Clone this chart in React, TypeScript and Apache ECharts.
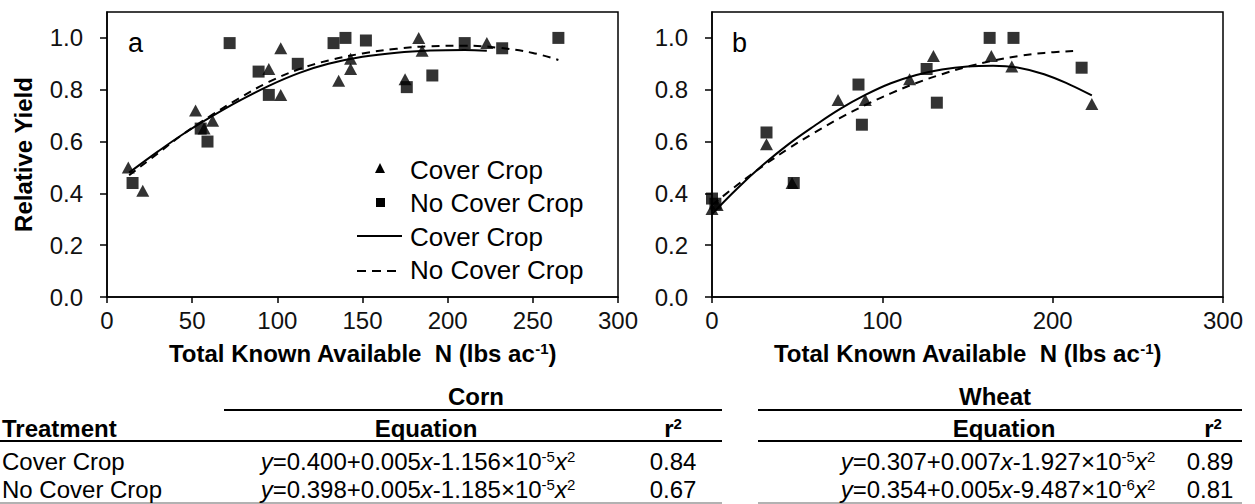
import React, { useEffect, useRef } from "react";
import * as echarts from "echarts";

const FONT = "'Liberation Sans', Arial, Helvetica, sans-serif";

// ---- data ----
const cornCoverPoints: [number, number][] = [
  [12.5, 0.5], [21, 0.41], [52, 0.72], [57, 0.65], [62, 0.68], [95, 0.88], [102, 0.96],
  [102, 0.78], [136, 0.835], [143, 0.88], [143, 0.92], [175, 0.84], [183, 1.0], [185, 0.95], [223, 0.98],
];
const cornNoCoverPoints: [number, number][] = [
  [15, 0.44], [55, 0.65], [59, 0.6], [72, 0.98], [89, 0.87], [95, 0.78], [112, 0.9], [133, 0.98],
  [140, 1.0], [152, 0.99], [176, 0.81], [191, 0.855], [210, 0.98], [232, 0.96], [265, 1.0],
];
const wheatCoverPoints: [number, number][] = [
  [0, 0.34], [3, 0.355], [32, 0.59], [47, 0.44], [74, 0.76], [90, 0.76], [116, 0.84],
  [130, 0.93], [164, 0.93], [176, 0.89], [223, 0.745],
];
const wheatNoCoverPoints: [number, number][] = [
  [0, 0.38], [2, 0.36], [32, 0.635], [48, 0.44], [86, 0.82], [88, 0.665], [126, 0.88],
  [132, 0.75], [163, 1.0], [177, 1.0], [217, 0.885],
];
const cornCoverFit: [number, number][] = [
  [13, 0.48], [30, 0.562], [45, 0.63], [61, 0.695], [77, 0.755], [95, 0.815], [113, 0.865],
  [130, 0.9], [150, 0.927], [170, 0.943], [190, 0.951], [210, 0.953], [223, 0.95],
];
const cornNoCoverFit: [number, number][] = [
  [13, 0.47], [30, 0.555], [45, 0.63], [61, 0.7], [77, 0.765], [95, 0.83], [113, 0.88],
  [130, 0.913], [150, 0.94], [170, 0.958], [190, 0.968], [210, 0.97], [230, 0.962], [250, 0.942], [265, 0.915],
];
const wheatCoverFit: [number, number][] = [
  [0, 0.32], [15, 0.42], [30, 0.51], [45, 0.59], [60, 0.66], [75, 0.725], [90, 0.78], [105, 0.825],
  [120, 0.857], [135, 0.878], [150, 0.89], [165, 0.893], [180, 0.885], [195, 0.86], [210, 0.82], [223, 0.778],
];
const wheatNoCoverFit: [number, number][] = [
  [0, 0.355], [15, 0.433], [30, 0.506], [45, 0.573], [60, 0.634], [75, 0.69], [90, 0.741], [105, 0.786],
  [120, 0.826], [135, 0.86], [150, 0.889], [165, 0.912], [180, 0.93], [195, 0.942], [212, 0.949],
];

const yTickValues = [0, 0.2, 0.4, 0.6, 0.8, 1.0];
const treatments = ["Cover Crop", "No Cover Crop"];
const cornEquations = [
  "{i|y}=0.400+0.005{i|x}-1.156{g|×}10{s|-5}{i|x}{s|2}",
  "{i|y}=0.398+0.005{i|x}-1.185{g|×}10{s|-5}{i|x}{s|2}",
];
const cornR2 = ["0.84", "0.67"];
const wheatEquations = [
  "{i|y}=0.307+0.007{i|x}-1.927{g|×}10{s|-5}{i|x}{s|2}",
  "{i|y}=0.354+0.005{i|x}-9.487{g|×}10{s|-6}{i|x}{s|2}",
];
const wheatR2 = ["0.89", "0.81"];

const rich: any = {
  i: { fontFamily: FONT, fontSize: 24, fontStyle: "italic", color: "#000" },
  g: { fontFamily: FONT, fontSize: 24, color: "#777" },
  s: { fontFamily: FONT, fontSize: 15, color: "#000", verticalAlign: "top" },
  sb: { fontFamily: FONT, fontSize: 15, fontWeight: "bold", color: "#000", verticalAlign: "top" },
};

function txt(x: number, y: number, text: string, extra: any = {}) {
  return {
    type: "text",
    x,
    y,
    silent: true,
    style: {
      text,
      fontFamily: FONT,
      fontSize: 24,
      fill: "#000",
      align: "center",
      verticalAlign: "middle",
      rich,
      ...extra,
    },
  };
}
function hline(x1: number, x2: number, y: number, color = "#000", w = 1.5, dash?: number[]) {
  return {
    type: "line",
    silent: true,
    shape: { x1, y1: y, x2, y2: y },
    style: { stroke: color, lineWidth: w, lineDash: dash },
  };
}

function xAxisCfg(grid: number, interval: number) {
  return {
    type: "value",
    gridIndex: grid,
    min: 0,
    max: 300,
    interval,
    axisLine: { show: true, lineStyle: { color: "#000", width: 1.5 } },
    axisTick: { show: true, inside: false, length: 6, lineStyle: { color: "#000", width: 1.5 } },
    axisLabel: { fontFamily: FONT, fontSize: 24, color: "#111", margin: 11 },
    splitLine: { show: false },
    name: "Total Known Available  N (lbs ac{s|-1})",
    nameLocation: "middle",
    nameGap: 44,
    nameTextStyle: {
      fontFamily: FONT,
      fontSize: 24,
      fontWeight: "bold",
      color: "#000",
      rich: { s: { fontFamily: FONT, fontSize: 15, fontWeight: "bold", color: "#000", verticalAlign: "top" } },
    },
  };
}
function yAxisCfg(grid: number, name: string) {
  return {
    type: "value",
    gridIndex: grid,
    min: 0,
    max: 1.1,
    axisLine: { show: true, lineStyle: { color: "#000", width: 1.5 } },
    axisTick: {
      show: true,
      inside: false,
      length: 7,
      customValues: yTickValues,
      lineStyle: { color: "#000", width: 1.5 },
    },
    axisLabel: {
      fontFamily: FONT,
      fontSize: 24,
      color: "#111",
      margin: 24,
      customValues: yTickValues,
      formatter: (v: number) => v.toFixed(1),
    },
    splitLine: { show: false },
    name,
    nameLocation: "middle",
    nameRotate: 90,
    nameGap: 72,
    nameTextStyle: { fontFamily: FONT, fontSize: 24, fontWeight: "bold", color: "#000" },
  };
}

function fitSeries(name: string, data: [number, number][], idx: number, dashed: boolean) {
  return {
    type: "line",
    name,
    xAxisIndex: idx,
    yAxisIndex: idx,
    data,
    smooth: 0.4,
    symbol: "none",
    z: 2,
    lineStyle: { color: "#000", width: 2, type: dashed ? [8, 6] : "solid" },
  };
}
function pointSeries(name: string, data: [number, number][], idx: number, tri: boolean) {
  return {
    type: "scatter",
    name,
    xAxisIndex: idx,
    yAxisIndex: idx,
    data,
    symbol: tri ? "triangle" : "rect",
    symbolSize: tri ? [13, 12] : 12,
    z: 3,
    itemStyle: { color: "#000" },
  };
}

export default function App() {
  const ref = useRef<HTMLDivElement>(null);
  useEffect(() => {
    if (!ref.current) return;
    const chart = echarts.init(ref.current, undefined, { renderer: "svg" });

    const tableRowsY = [461, 489];
    const graphic: any[] = [
      // panel letters
      txt(128, 43, "a", { align: "left", fontSize: 27 }),
      txt(732, 43, "b", { align: "left", fontSize: 27 }),
      // legend
      { type: "polygon", silent: true, shape: { points: [[375, 173], [385, 173], [380, 163]] }, style: { fill: "#000" } },
      { type: "rect", silent: true, shape: { x: 376, y: 198, width: 9, height: 9 }, style: { fill: "#000" } },
      hline(357, 402, 236, "#000", 2),
      hline(357, 402, 271, "#000", 2, [9, 6]),
      txt(410, 170, "Cover Crop", { align: "left", fontSize: 26 }),
      txt(410, 203, "No Cover Crop", { align: "left", fontSize: 26 }),
      txt(410, 237, "Cover Crop", { align: "left", fontSize: 26 }),
      txt(410, 270, "No Cover Crop", { align: "left", fontSize: 26 }),
      // table: corn
      txt(476, 396, "Corn", { fontWeight: "bold" }),
      hline(224, 722, 410, "#000", 2),
      txt(2, 428, "Treatment", { align: "left", fontWeight: "bold" }),
      txt(426, 428, "Equation", { fontWeight: "bold" }),
      txt(673, 428, "r{sb|2}", { fontWeight: "bold" }),
      hline(0, 722, 441, "#000", 2),
      // table: wheat
      txt(995, 396, "Wheat", { fontWeight: "bold" }),
      hline(758, 1242, 410, "#000", 2),
      txt(1004, 428, "Equation", { fontWeight: "bold" }),
      txt(1213, 428, "r{sb|2}", { fontWeight: "bold" }),
      hline(758, 1242, 441, "#000", 2),
      hline(0, 722, 503, "#999", 1.5),
      hline(758, 1242, 503, "#999", 1.5),
    ];
    treatments.forEach((t, k) => {
      const y = tableRowsY[k];
      graphic.push(txt(2, y, t, { align: "left" }));
      graphic.push(txt(418, y, cornEquations[k]));
      graphic.push(txt(673, y, cornR2[k]));
      graphic.push(txt(998, y, wheatEquations[k]));
      graphic.push(txt(1210, y, wheatR2[k]));
    });

    chart.setOption({
      animation: false,
      backgroundColor: "#fff",
      textStyle: { fontFamily: FONT },
      grid: [
        { left: 107, top: 12, width: 511, height: 285, show: true, borderColor: "#000", borderWidth: 1.5, backgroundColor: "transparent" },
        { left: 712, top: 12, width: 511, height: 285, show: true, borderColor: "#000", borderWidth: 1.5, backgroundColor: "transparent" },
      ],
      xAxis: [xAxisCfg(0, 50), xAxisCfg(1, 100)],
      yAxis: [yAxisCfg(0, "Relative Yield"), yAxisCfg(1, "")],
      series: [
        fitSeries("Cover Crop", cornCoverFit, 0, false),
        fitSeries("No Cover Crop", cornNoCoverFit, 0, true),
        pointSeries("Cover Crop", cornCoverPoints, 0, true),
        pointSeries("No Cover Crop", cornNoCoverPoints, 0, false),
        fitSeries("Cover Crop", wheatCoverFit, 1, false),
        fitSeries("No Cover Crop", wheatNoCoverFit, 1, true),
        pointSeries("Cover Crop", wheatCoverPoints, 1, true),
        pointSeries("No Cover Crop", wheatNoCoverPoints, 1, false),
      ],
      graphic,
    });
    return () => chart.dispose();
  }, []);
  return (
    <div
      ref={ref}
      style={{ position: "fixed", left: 0, top: 0, width: 1255, height: 504, background: "#fff" }}
    />
  );
}
